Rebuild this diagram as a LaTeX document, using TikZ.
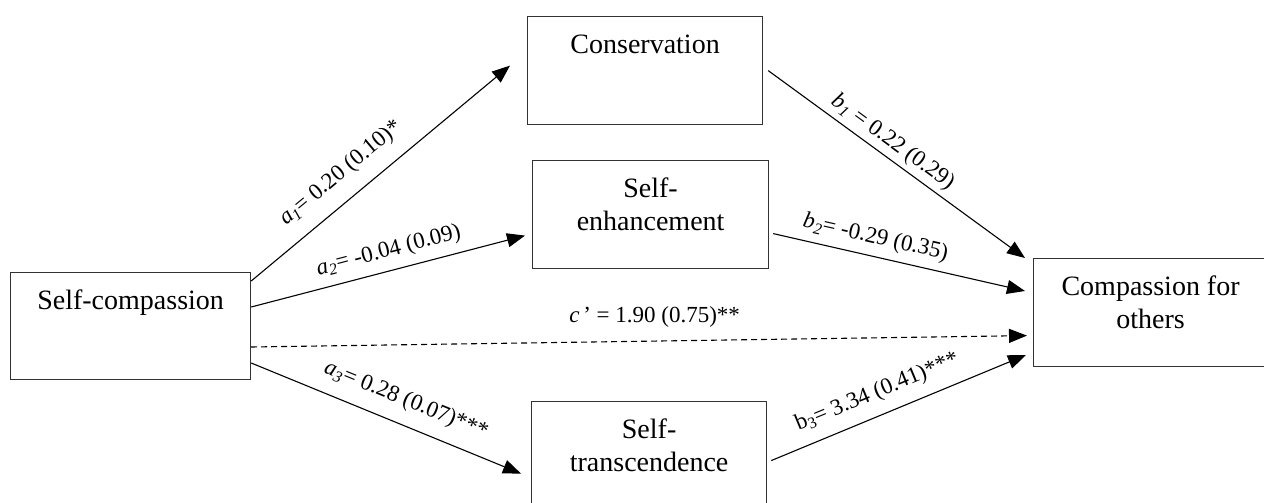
\documentclass[tikz,border=0pt]{standalone}
\usepackage{fontspec}
\setmainfont{Liberation Serif}
\usetikzlibrary{arrows.meta}
\newcommand{\bxt}[3]{\parbox[t][#2][t]{#1}{\centering\rule{0pt}{37pt}#3}}
\tikzset{
  boxnode/.style={draw=black!80, line width=1.2pt, inner sep=0pt, anchor=north west, font=\fontsize{28}{33}\selectfont},
  arr/.style={-{Triangle[length=18pt,width=14pt]}, line width=1.1pt},
  lbl/.style={inner sep=0pt, font=\fontsize{23}{28}\selectfont}
}
\begin{document}
\begin{tikzpicture}[x=1pt,y=-1pt]
\useasboundingbox (0,0) rectangle (1264,503);
\node[boxnode] (sc) at (10,272) {\bxt{240pt}{107pt}{Self-compassion}};
\node[boxnode] (cons) at (527,16) {\bxt{235pt}{108pt}{Conservation}};
\node[boxnode] (se) at (532,160) {\bxt{236pt}{108pt}{Self-\\enhancement}};
\node[boxnode] (st) at (531,401) {\bxt{235pt}{108pt}{Self-\\transcendence}};
\node[boxnode] (co) at (1033,258) {\bxt{234pt}{108pt}{Compassion for\\others}};

\draw[arr] ([yshift=-9pt]sc.north east) -- node[lbl, sloped, pos=0.41, above=14.5pt] (la1) {\textit{a}\textsubscript{\textit{1}}= 0.20 (0.10)*} ([xshift=-17pt,yshift=5pt]cons.west);
\draw[arr] ([yshift=-35pt]sc.north east) -- node[lbl, sloped, pos=0.52, above=8.5pt] (la2) {\textit{a}\textsubscript{\textit{2}}= -0.04 (0.09)} ([xshift=-7pt,yshift=-21pt]se.west);
\draw[arr, dash pattern=on 6pt off 4pt] ([yshift=-75pt]sc.north east) -- node[lbl, pos=0.52, above=13pt] (lc) {\textit{c}\,’ = 1.90 (0.75)**} ([xshift=-6pt,yshift=-23pt]co.west);
\draw[arr] ([yshift=-91pt]sc.north east) -- node[lbl, sloped, pos=0.54, above=13pt] (la3) {\textit{a}\textsubscript{\textit{3}}= 0.28 (0.07)***} ([xshift=-10pt,yshift=-18pt]st.west);
\draw[arr] ([xshift=5pt]cons.east) -- node[lbl, sloped, pos=0.45, above=4.5pt] (lb1) {\textit{b}\textsubscript{\textit{1}} = 0.22 (0.29)} ([xshift=-8pt]co.north west);
\draw[arr] ([xshift=4pt,yshift=-19pt]se.east) -- node[lbl, sloped, pos=0.39, above=7.5pt] (lb2) {\textit{b}\textsubscript{\textit{2}}= -0.29 (0.35)} ([xshift=-8pt,yshift=-33pt]co.north west);
\draw[arr] ([xshift=4pt,yshift=-5pt]st.east) -- node[lbl, sloped, pos=0.45, above=11.5pt] (lb3) {b\textsubscript{3}= 3.34 (0.41)***} ([xshift=-7pt,yshift=-97pt]co.north west);
\end{tikzpicture}
\end{document}
